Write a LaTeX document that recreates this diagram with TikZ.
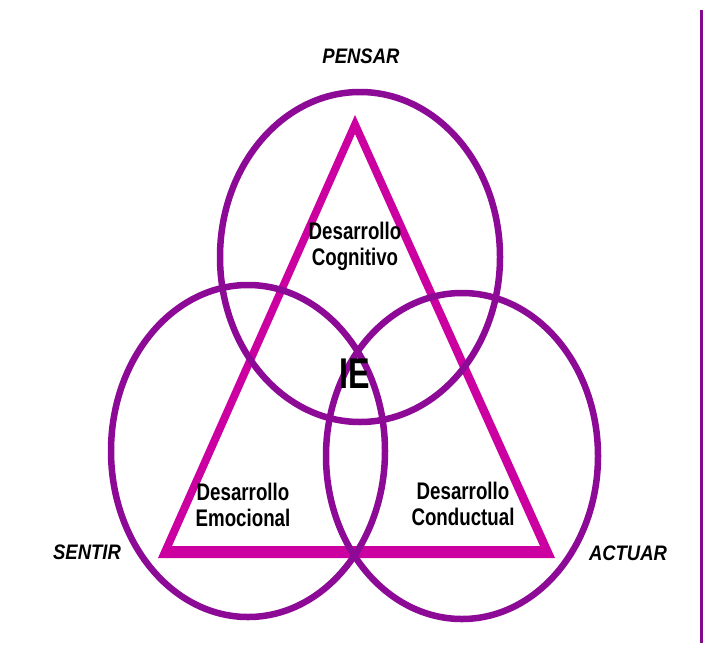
\documentclass[tikz,border=0pt]{standalone}
\usepackage{fontspec}
\setmainfont{Liberation Sans}
\definecolor{ringc}{RGB}{140,10,150}
\definecolor{tric}{RGB}{204,0,160}
\definecolor{barc}{RGB}{130,10,140}
\begin{document}
\begin{tikzpicture}[x=1pt,y=-1pt,
  ring/.style={draw=ringc, line width=6.5pt},
  lbl/.style={font=\bfseries\fontsize{24}{29}\selectfont, align=center, inner sep=0pt, text=black},
  corner/.style={font=\bfseries\itshape\fontsize{21}{24}\selectfont, inner sep=0pt, text=black}]
\useasboundingbox (0,0) rectangle (711,653);
\fill[white] (0,0) rectangle (711,653);
% triangle
\fill[tric, even odd rule] (355,115) -- (158,558) -- (555,558) -- cycle
  (355,134) -- (172,546) -- (540,546) -- cycle;
% circles
\draw[ring] (360,257) ellipse [x radius=140, y radius=165];
\draw[ring] (248,451) ellipse [x radius=137, y radius=166];
\draw[ring] (462,456) ellipse [x radius=136, y radius=163];
% vertical bar
\coordinate (bt) at (701,10);
\coordinate (bb) at (701,643);
\draw[barc, line width=3pt] (bt) -- (bb);
% labels
\node[corner] (pensar) at (361,56) {\scalebox{0.88}[1]{PENSAR}};
\node[corner] (sentir) at (87,552) {\scalebox{0.88}[1]{SENTIR}};
\node[corner] (actuar) at (628,553) {\scalebox{0.88}[1]{ACTUAR}};
\node[lbl] (cog) at (355,246) {\scalebox{0.78}[1]{Desarrollo}\\[-3pt]\scalebox{0.78}[1]{Cognitivo}};
\node[lbl] (emo) at (243,505) {\scalebox{0.78}[1]{Desarrollo}\\[-3pt]\scalebox{0.78}[1]{Emocional}};
\node[lbl] (con) at (463,504) {\scalebox{0.78}[1]{Desarrollo}\\[-3pt]\scalebox{0.78}[1]{Conductual}};
\node[font=\bfseries\fontsize{43}{43}\selectfont, inner sep=0pt] (ie) at (355,374) {\scalebox{0.75}[1]{IE}};
\end{tikzpicture}
\end{document}
